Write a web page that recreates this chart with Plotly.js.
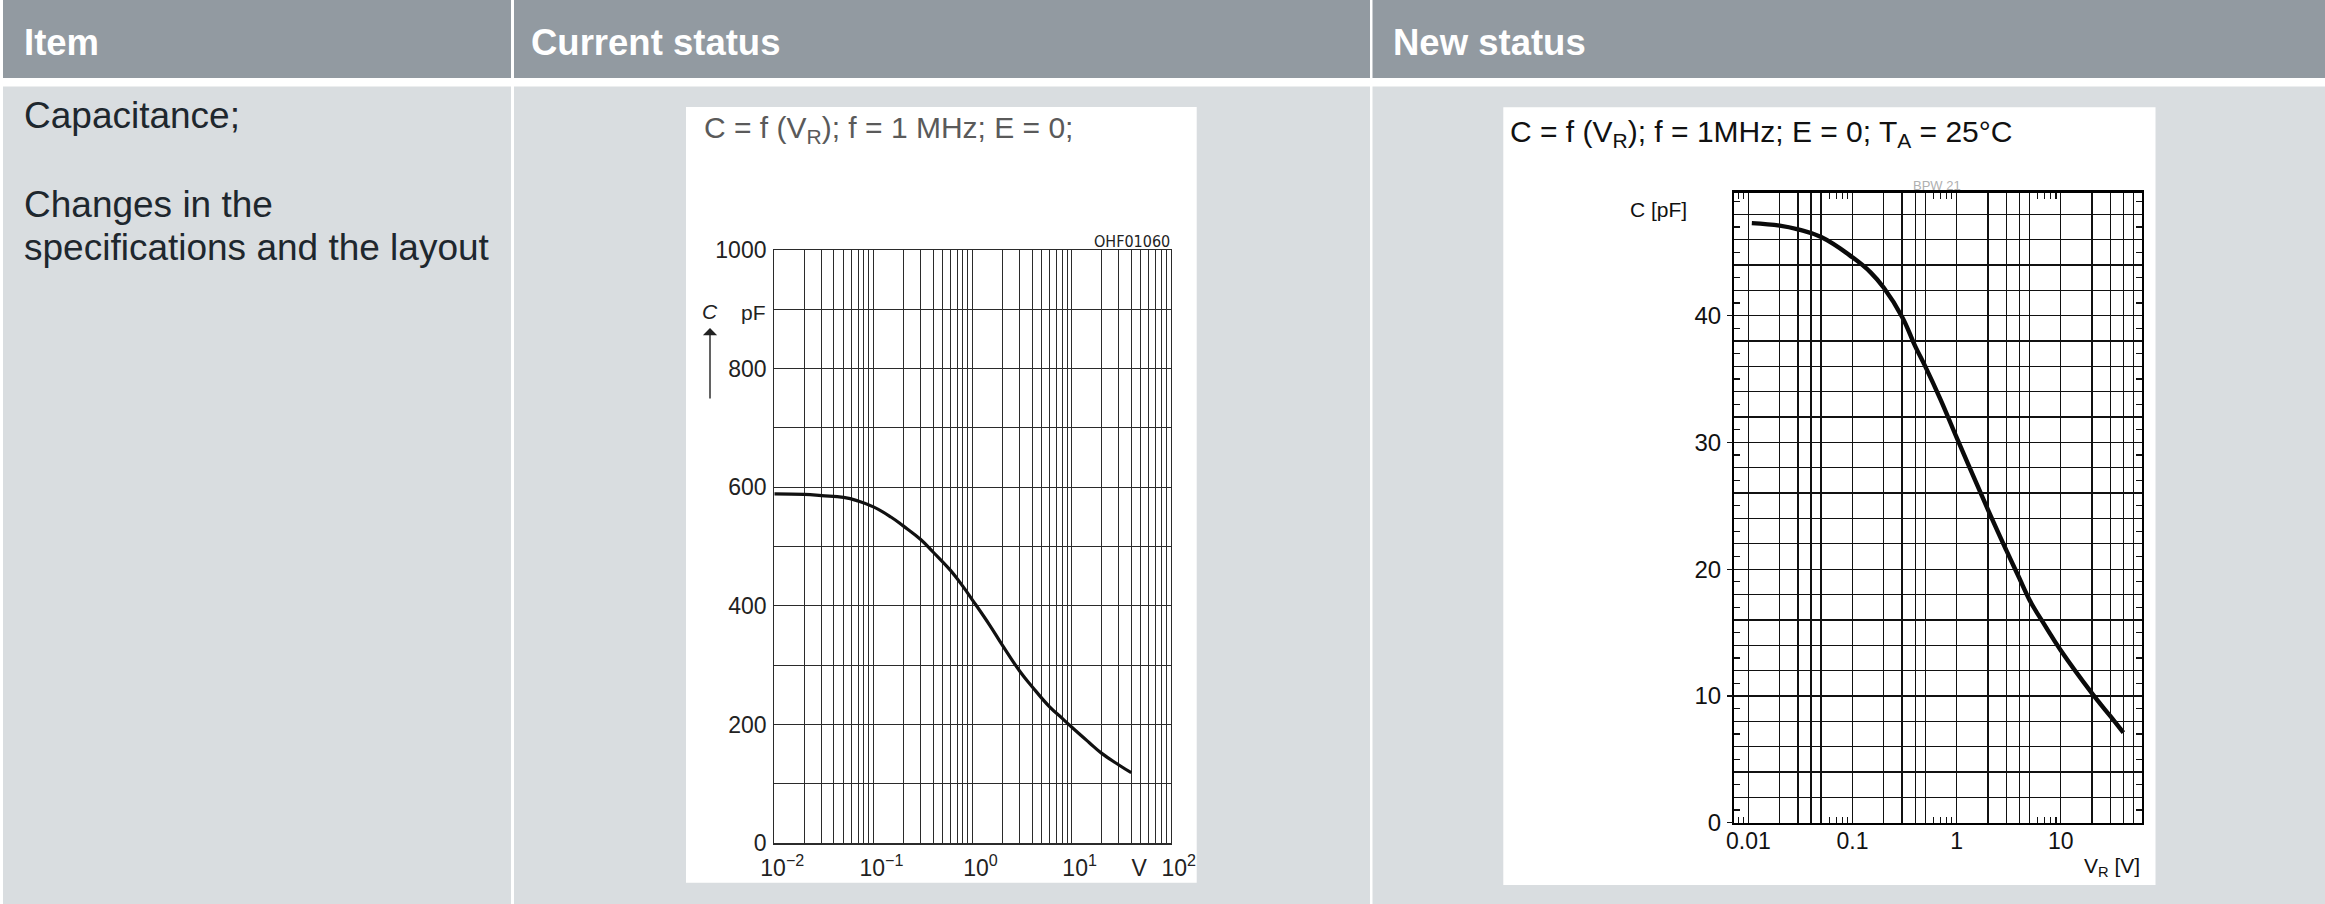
<!DOCTYPE html>
<html>
<head>
<meta charset="utf-8">
<script src="https://cdn.plot.ly/plotly-3.0.1.min.js"></script>
<style>
html,body{margin:0;padding:0;background:#ffffff;overflow:hidden}
#chart{width:2325px;height:904px}
</style>
</head>
<body>
<div id="chart"></div>
<script>
// ---------- data ----------
// Current status curve: C (pF) versus reverse voltage (V)
const oldVoltage     = [0.01, 0.02, 0.03, 0.05, 0.07, 0.1, 0.15, 0.2, 0.3, 0.4, 0.6, 0.8, 1, 1.5, 2, 3, 4, 6, 8, 10, 15, 20, 30, 40];
const oldCapacitance = [589, 588, 586, 583, 577, 567, 550, 535, 512, 491, 460, 433, 410, 367, 334, 290, 264, 230, 211, 196, 170, 152, 132, 119];
const oldXTickVals   = [0.01, 0.1, 1, 10, 40, 100];
const oldXTickText   = ['10<sup>\u22122</sup>', '10<sup>\u22121</sup>', '10<sup>0</sup>', '10<sup>1</sup>', 'V', '10<sup>2</sup>'];
const oldYTickVals   = [0, 200, 400, 600, 800, 1000];
const oldYTickText   = ['0', '200', '400', '600', '800', '1000'];

// New status curve: C (pF) versus reverse voltage (V)
const newVoltage     = [0.0108, 0.02, 0.03, 0.05, 0.1, 0.15, 0.2, 0.3, 0.4, 0.5, 0.7, 1, 2, 3, 4, 5, 7, 10, 20, 30, 40];
const newCapacitance = [47.3, 47.1, 46.8, 46.2, 44.6, 43.4, 42.2, 39.9, 37.6, 36.0, 33.4, 30.4, 24.7, 21.5, 19.3, 17.6, 15.6, 13.6, 10.2, 8.4, 7.1];
const newXTickVals   = [0.01, 0.1, 1, 10];
const newXTickText   = ['0.01', '0.1', '1', '10'];
const newXExtraGrid  = [0.02, 0.03, 0.04, 0.05, 0.2, 0.3, 0.4, 0.5, 2, 3, 4, 5, 20, 30, 40, 50];
const newXMinorTicks = [0.008, 0.009, 0.06, 0.07, 0.08, 0.09, 0.6, 0.7, 0.8, 0.9, 6, 7, 8, 9];
const newYTickVals   = [0, 10, 20, 30, 40];
const newYTickText   = ['0', '10', '20', '30', '40'];
const newYExtraGrid  = [2, 4, 6, 8, 12, 14, 16, 18, 22, 24, 26, 28, 32, 34, 36, 38, 42, 44, 46, 48];
const newYMinorTicks = [1, 3, 5, 7, 9, 11, 13, 15, 17, 19, 21, 23, 25, 27, 29, 31, 33, 35, 37, 39, 41, 43, 45, 47, 49];

// table texts
const headerTexts = ['Item', 'Current status', 'New status'];
const itemLines   = ['Capacitance;', 'Changes in the', 'specifications and the layout'];
const oldTitle    = 'C = f (V<sub>R</sub>); f = 1 MHz; E = 0;';
const newTitle    = 'C = f (V<sub>R</sub>); f = 1MHz; E = 0; T<sub>A</sub> = 25\u00B0C';

// ---------- page geometry ----------
const W = 2325, H = 904;
const px = v => v / W;
const py = v => 1 - v / H;

const headerColor = '#929aa1';
const bodyColor = '#d9dde0';
const shapes = [];
function rect(x0, y0, x1, y1, color) {
  shapes.push({type: 'rect', xref: 'paper', yref: 'paper', layer: 'below',
    x0: px(x0), x1: px(x1), y0: py(y1), y1: py(y0), fillcolor: color, line: {width: 0}});
}
rect(3, 0, 511, 78, headerColor);
rect(514, 0, 1370, 78, headerColor);
rect(1372.5, 0, 2325, 78, headerColor);
rect(3, 86.5, 511, 904, bodyColor);
rect(514, 86.5, 1370, 904, bodyColor);
rect(1372.5, 86.5, 2325, 904, bodyColor);
rect(686, 107, 1196.7, 882.7, '#ffffff');
rect(1503.3, 107.3, 2155.5, 885, '#ffffff');

const SANS = 'Liberation Sans, Arial, sans-serif';
const annotations = [];
function label(text, x, baseline, size, color, anchor, extra) {
  const a = {xref: 'paper', yref: 'paper', x: px(x), y: py(baseline - 0.905 * size),
    xanchor: anchor || 'left', yanchor: 'top', text: text, showarrow: false, borderpad: 0,
    font: {family: SANS, size: size, color: color}};
  if (extra) Object.assign(a.font, extra);
  annotations.push(a);
}
label(headerTexts[0], 22.7, 54, 36.5, '#ffffff', 'left', {weight: 'bold'});
label(headerTexts[1], 530, 54, 36.5, '#ffffff', 'left', {weight: 'bold'});
label(headerTexts[2], 1391.7, 54, 36.5, '#ffffff', 'left', {weight: 'bold'});
label(itemLines[0], 22.7, 127.7, 37, '#1e272e');
label(itemLines[1], 22.7, 216, 37, '#1e272e');
label(itemLines[2], 22.7, 259.7, 37, '#1e272e');

// chart titles
label(oldTitle, 703, 136.7, 30, '#5a5a5a');
label(newTitle, 1509, 141, 30, '#111111');

// left chart decorations
label('<i>C</i>', 710, 318, 21, '#222222', 'center');
label('pF', 740, 319, 21, '#222222', 'left');
label('OHF01060', 1171, 245, 16, '#222222', 'right', {family: 'Liberation Sans Narrow, DejaVu Sans Condensed, Liberation Sans, sans-serif'});
annotations.push({xref: 'paper', yref: 'paper', x: px(710), y: py(328), ax: 0, ay: 72,
  text: '', showarrow: true, arrowhead: 1, arrowsize: 1.7, arrowwidth: 1.4, arrowcolor: '#222222', standoff: 0});

// right chart decorations
label('C [pF]', 1629, 216, 21, '#111111', 'left');
label('BPW 21', 1937, 189, 13, '#b0b0b0', 'center');
label('V<sub>R</sub> [V]', 2141, 872, 21, '#111111', 'right');

const gridOld = '#2b2b2b';
const gridNew = '#111111';

const traces = [
  {x: oldVoltage, y: oldCapacitance, xaxis: 'x', yaxis: 'y', type: 'scatter', mode: 'lines',
   line: {color: '#111111', width: 3.2, shape: 'spline', smoothing: 1.3}, hoverinfo: 'skip'},
  {x: newVoltage, y: newCapacitance, xaxis: 'x2', yaxis: 'y2', type: 'scatter', mode: 'lines',
   line: {color: '#0a0a0a', width: 4.4, shape: 'spline', smoothing: 1.2}, hoverinfo: 'skip'},
  // invisible copies so the helper grid / tick axes own a subplot
  {x: newVoltage, y: newCapacitance, xaxis: 'x3', yaxis: 'y3', type: 'scatter', mode: 'lines',
   line: {width: 0}, opacity: 0, hoverinfo: 'skip'},
  {x: newVoltage, y: newCapacitance, xaxis: 'x3', yaxis: 'y4', type: 'scatter', mode: 'lines',
   line: {width: 0}, opacity: 0, hoverinfo: 'skip'}
];

const newXDomain = [px(1734.3), px(2141.7)];
const newYDomain = [py(822.7), py(192.7)];
const newXRange = [-2.135, Math.log10(60)];
const newYRange = [0, 49.7];

const layout = {
  width: W, height: H, autosize: false,
  margin: {l: 0, r: 0, t: 0, b: 0},
  paper_bgcolor: '#ffffff', plot_bgcolor: 'rgba(0,0,0,0)',
  showlegend: false,
  font: {family: SANS, color: '#222222'},
  shapes: shapes,
  annotations: annotations,
  xaxis: {
    domain: [px(774.3), px(1170.7)], anchor: 'y', type: 'log', range: [-2, 2],
    tickmode: 'array', tickvals: oldXTickVals, ticktext: oldXTickText,
    showgrid: true, gridcolor: gridOld, gridwidth: 1,
    minor: {dtick: 'D1', showgrid: true, gridcolor: gridOld, gridwidth: 1, ticks: ''},
    showline: true, mirror: true, linecolor: gridOld, linewidth: 1.2,
    ticks: '', zeroline: false, fixedrange: true,
    tickfont: {family: SANS, size: 23, color: '#222222'},
    ticklabelshift: 8, ticklabelstandoff: 4
  },
  yaxis: {
    domain: [py(843.3), py(250)], anchor: 'x', range: [0, 1000],
    tickmode: 'array', tickvals: oldYTickVals, ticktext: oldYTickText,
    showgrid: true, gridcolor: gridOld, gridwidth: 1,
    minor: {dtick: 100, showgrid: true, gridcolor: gridOld, gridwidth: 1, ticks: ''},
    showline: true, mirror: true, linecolor: gridOld, linewidth: 1.2,
    ticks: '', zeroline: false, fixedrange: true,
    tickfont: {family: SANS, size: 23, color: '#222222'},
    ticklabelstandoff: 2
  },
  xaxis2: {
    domain: newXDomain, anchor: 'y2', type: 'log', range: newXRange,
    tickmode: 'array', tickvals: newXTickVals, ticktext: newXTickText,
    showgrid: true, gridcolor: gridNew, gridwidth: 1.3,
    minor: {tickmode: 'array', tickvals: newXMinorTicks, ticks: 'inside', ticklen: 6, tickwidth: 1.3, tickcolor: '#111111', showgrid: false},
    showline: true, mirror: 'ticks', linecolor: '#000000', linewidth: 2.4,
    ticks: '', zeroline: false, fixedrange: true,
    tickfont: {family: SANS, size: 23, color: '#111111'},
    ticklabelstandoff: -4
  },
  yaxis2: {
    domain: newYDomain, anchor: 'x2', range: newYRange,
    tickmode: 'array', tickvals: newYTickVals, ticktext: newYTickText,
    showgrid: true, gridcolor: gridNew, gridwidth: 1.3,
    minor: {tickmode: 'array', tickvals: newYMinorTicks, ticks: 'inside', ticklen: 6, tickwidth: 1.3, tickcolor: '#111111', showgrid: false},
    showline: true, mirror: 'ticks', linecolor: '#000000', linewidth: 2.4,
    ticks: '', zeroline: false, fixedrange: true,
    tickfont: {family: SANS, size: 24, color: '#111111'},
    ticklabelstandoff: 6
  },
  xaxis3: {
    domain: newXDomain, anchor: 'y3', type: 'log', range: newXRange,
    tickmode: 'array', tickvals: newXExtraGrid, showticklabels: false,
    showgrid: true, gridcolor: gridNew, gridwidth: 1.3,
    showline: false, ticks: '', zeroline: false, fixedrange: true
  },
  yaxis3: {
    domain: newYDomain, anchor: 'x3', range: newYRange,
    tickmode: 'array', tickvals: newYExtraGrid, showticklabels: false,
    showgrid: true, gridcolor: gridNew, gridwidth: 1.3,
    showline: false, ticks: '', zeroline: false, fixedrange: true
  },
  yaxis4: {
    domain: newYDomain, anchor: 'x3', range: newYRange,
    tickmode: 'array', tickvals: newYTickVals, showticklabels: false,
    showgrid: false, showline: false, zeroline: false, fixedrange: true,
    ticks: 'outside', ticklen: 6, tickwidth: 1.3, tickcolor: '#111111'
  }
};

Plotly.newPlot('chart', traces, layout, {displayModeBar: false, staticPlot: true});
</script>
</body>
</html>
